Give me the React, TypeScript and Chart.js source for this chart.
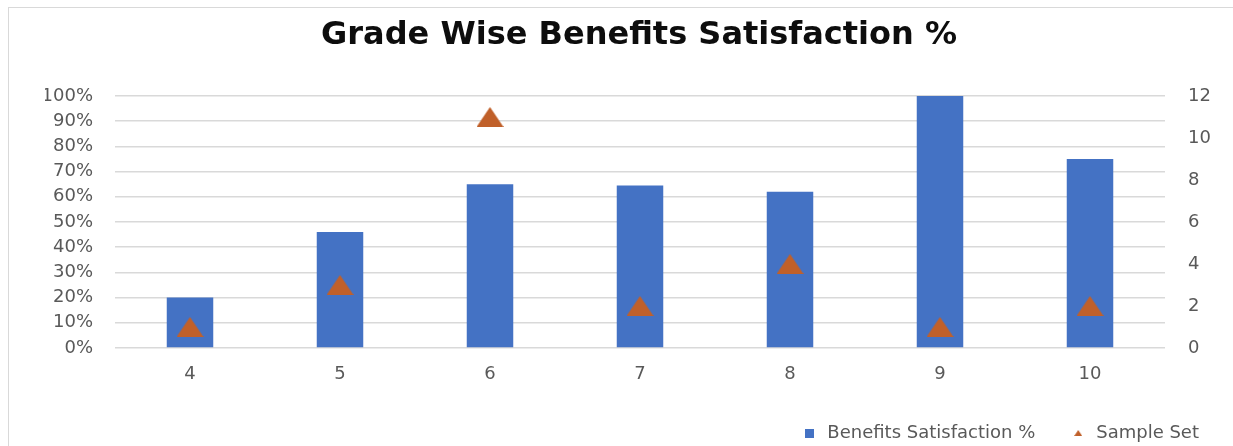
import React, { useEffect, useRef } from "react";
import { Chart, registerables } from "chart.js";

Chart.register(...registerables);

const TITLE = "Grade Wise Benefits Satisfaction %";
const grades = ["4", "5", "6", "7", "8", "9", "10"];
const satisfactionPct = [20, 46, 65, 64.5, 62, 100, 75];
const sampleSet = [1, 3, 11, 2, 4, 1, 2];
const seriesNames = ["Benefits Satisfaction %", "Sample Set"];

const BAR_COLOR = "#4472C4";
const MARK_COLOR = "#C0602A";
const TICK_COLOR = "#595959";
const FONT = "'DejaVu Sans', sans-serif";

function makeTriangle(w: number, h: number, color: string) {
  const c = document.createElement("canvas");
  c.width = w;
  c.height = h;
  const ctx = c.getContext("2d")!;
  ctx.fillStyle = color;
  ctx.beginPath();
  ctx.moveTo(w / 2, 0);
  ctx.lineTo(w, h);
  ctx.lineTo(0, h);
  ctx.closePath();
  ctx.fill();
  return c;
}

function makeSquare(s: number, color: string) {
  const c = document.createElement("canvas");
  c.width = s;
  c.height = s;
  const ctx = c.getContext("2d")!;
  ctx.fillStyle = color;
  ctx.fillRect(0, 0, s, s);
  return c;
}

export default function App() {
  const ref = useRef<HTMLCanvasElement>(null);

  useEffect(() => {
    if (!ref.current) return;
    const pointImg = makeTriangle(27, 20, MARK_COLOR);
    const legendSquare = makeSquare(9, BAR_COLOR);
    const legendTri = makeTriangle(8, 6, MARK_COLOR);

    const chart = new Chart(ref.current, {
      type: "bar",
      data: {
        labels: grades,
        datasets: [
          {
            type: "bar",
            label: seriesNames[0],
            data: satisfactionPct,
            backgroundColor: BAR_COLOR,
            yAxisID: "y",
            barPercentage: 0.31,
            categoryPercentage: 1,
            order: 2,
          },
          {
            type: "line",
            label: seriesNames[1],
            data: sampleSet,
            showLine: false,
            pointStyle: pointImg as any,
            pointRadius: 10,
            backgroundColor: MARK_COLOR,
            borderColor: MARK_COLOR,
            yAxisID: "y1",
            order: 1,
          },
        ],
      },
      options: {
        animation: false,
        responsive: true,
        maintainAspectRatio: false,
        layout: { padding: { left: 36, right: 0, top: 0, bottom: 0 } },
        plugins: {
          tooltip: { enabled: false },
          title: {
            display: true,
            text: TITLE,
            color: "#0d0d0d",
            font: { family: FONT, size: 32, weight: "bold", lineHeight: 1.2 },
            padding: { top: 8, bottom: 41.6 },
          },
          legend: {
            position: "bottom",
            align: "end",
            labels: {
              usePointStyle: true,
              pointStyleWidth: 18,
              padding: 34,
              color: TICK_COLOR,
              font: { family: FONT, size: 18 },
              generateLabels: () => [
                {
                  text: seriesNames[0],
                  pointStyle: legendSquare as any,
                  fillStyle: BAR_COLOR,
                  strokeStyle: BAR_COLOR,
                  lineWidth: 0,
                  datasetIndex: 0,
                  fontColor: TICK_COLOR,
                },
                {
                  text: seriesNames[1],
                  pointStyle: legendTri as any,
                  fillStyle: MARK_COLOR,
                  strokeStyle: MARK_COLOR,
                  lineWidth: 0,
                  datasetIndex: 1,
                  fontColor: TICK_COLOR,
                },
              ],
            },
          },
        },
        scales: {
          x: {
            grid: { display: false, drawTicks: false },
            border: { display: false },
            ticks: { color: TICK_COLOR, padding: 16, font: { family: FONT, size: 18 } },
            afterFit: (s: any) => {
              s.height = 42;
            },
          },
          y: {
            position: "left",
            min: 0,
            max: 100,
            ticks: {
              stepSize: 10,
              color: TICK_COLOR,
              padding: 22,
              font: { family: FONT, size: 18 },
              callback: (v: any) => v + "%",
            },
            grid: { color: "#d9d9d9", lineWidth: 1.5, drawTicks: false },
            border: { display: false },
            afterFit: (s: any) => {
              s.width = 70;
            },
          },
          y1: {
            position: "right",
            min: 0,
            max: 12,
            ticks: { stepSize: 2, color: TICK_COLOR, padding: 23, font: { family: FONT, size: 18 } },
            grid: { drawOnChartArea: false, drawTicks: false },
            border: { display: false },
            afterFit: (s: any) => {
              s.width = 68;
            },
          },
        },
      },
    });
    return () => chart.destroy();
  }, []);

  return (
    <div
      style={{
        position: "fixed",
        left: 8,
        top: 7,
        borderLeft: "1px solid #d9d9d9",
        borderTop: "1px solid #d9d9d9",
        background: "#fff",
      }}
    >
      <div style={{ position: "relative", width: 1224, height: 444 }}>
        <canvas ref={ref} />
      </div>
    </div>
  );
}
